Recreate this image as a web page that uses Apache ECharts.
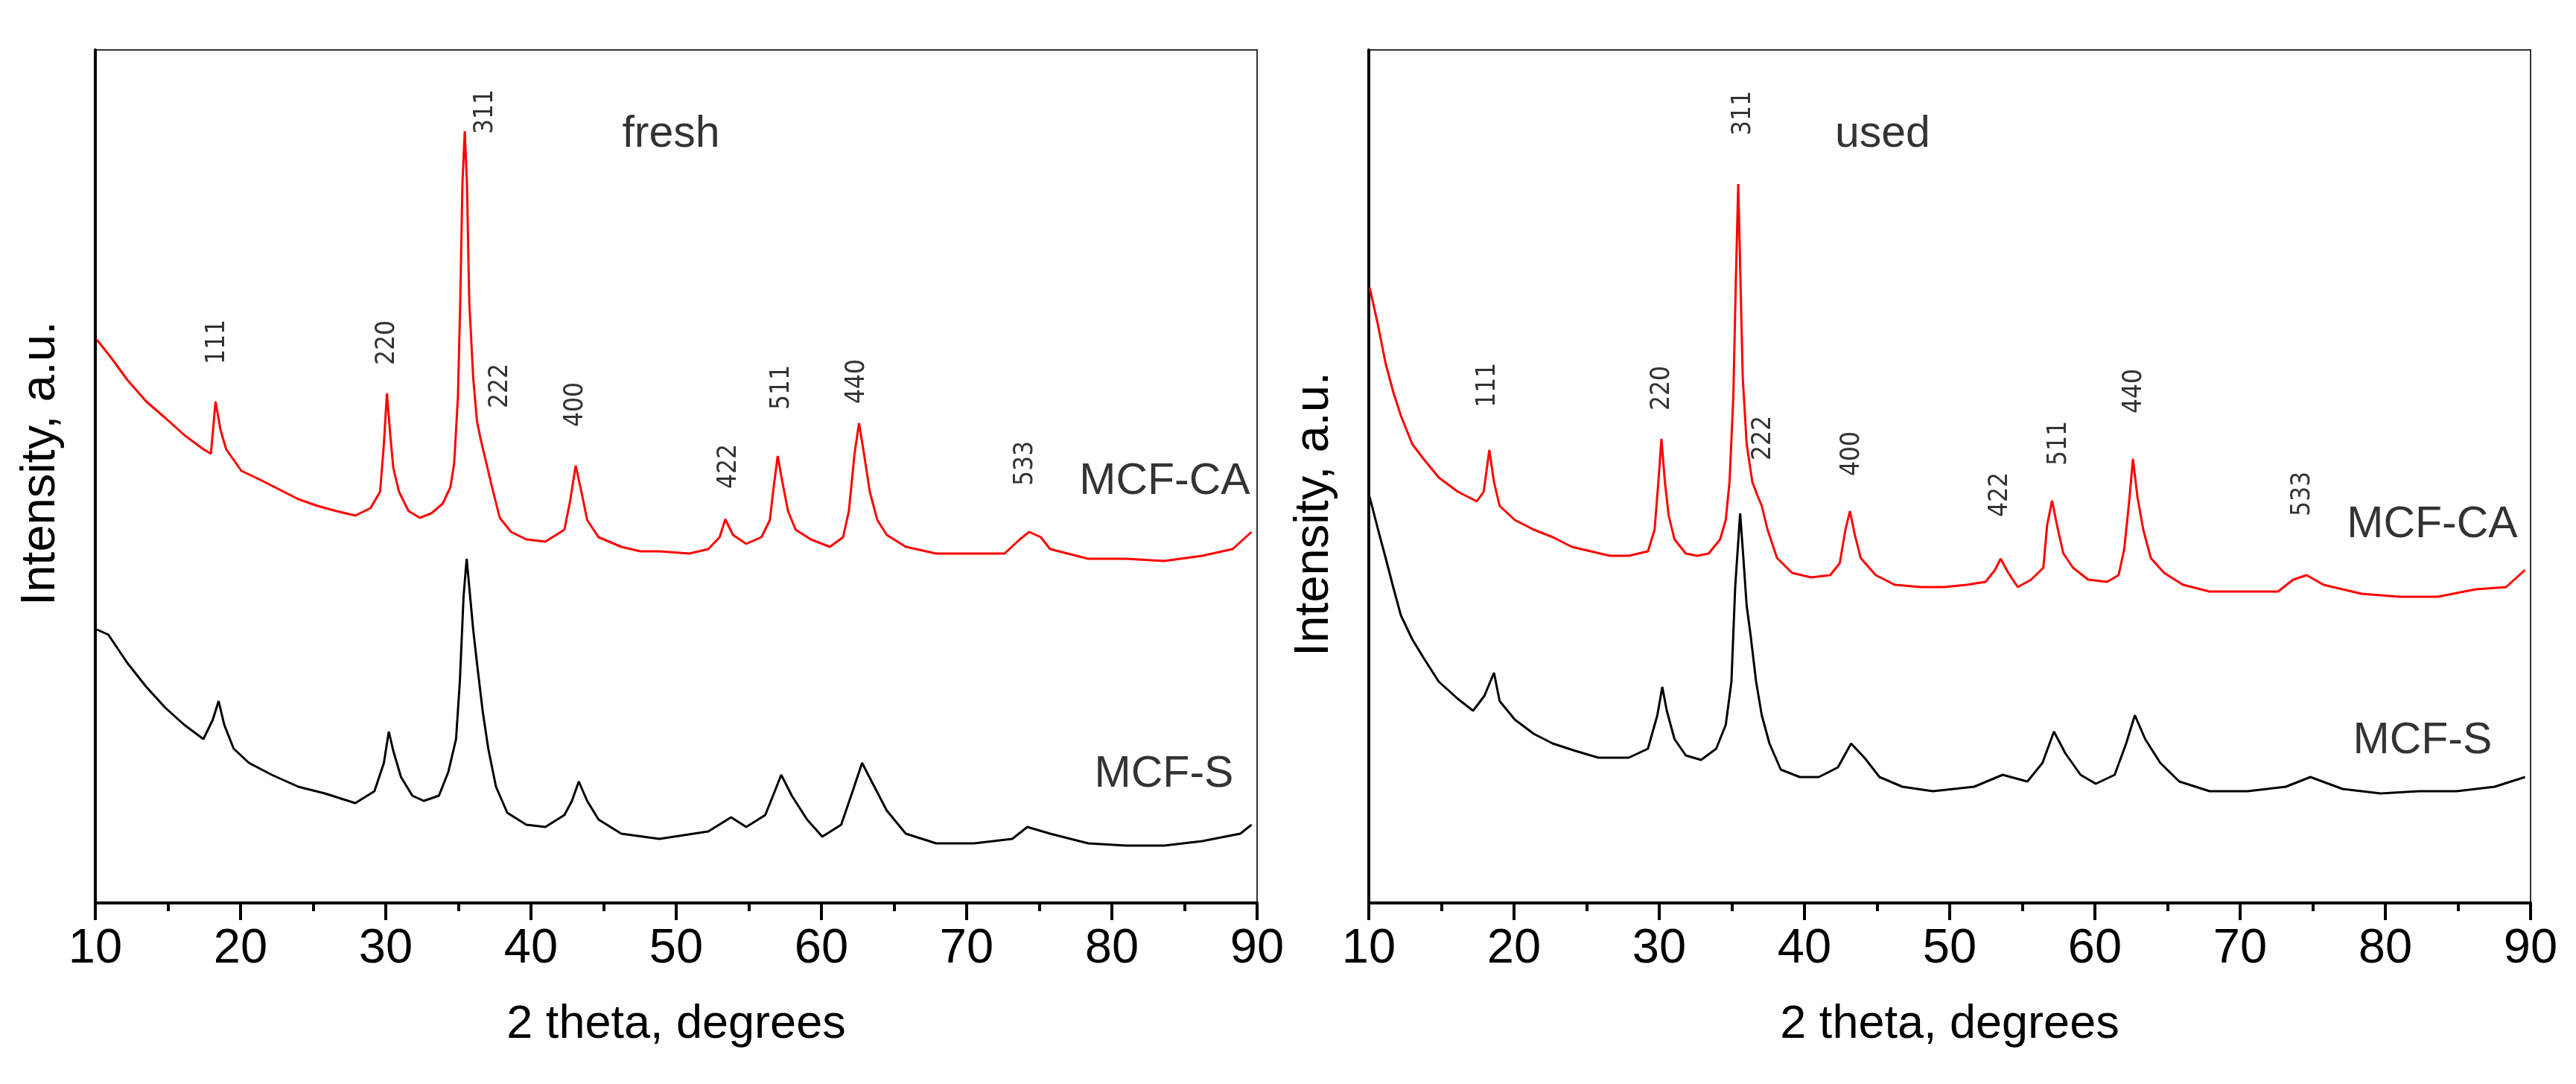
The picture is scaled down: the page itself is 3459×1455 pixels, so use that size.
<!DOCTYPE html>
<html><head><meta charset="utf-8">
<script src="https://cdn.jsdelivr.net/npm/echarts@6/dist/echarts.min.js"></script>
<style>html,body{margin:0;padding:0;background:#fff}#c{width:3459px;height:1455px}</style>
</head><body><div id="c"></div>
<script>
// 2-theta (degrees) vs intensity (a.u.)
const freshCA = [[10.11,756],[11.16,730],[12.21,702],[13.51,673],[14.82,651],[16.13,628],[17.44,609],[17.96,603],[18.28,673],[18.62,635],[19.01,609],[20.06,580],[21.36,568],[22.67,555],[23.98,542],[25.29,533],[26.60,526],[27.90,520],[28.95,530],[29.61,552],[29.87,616],[30.08,684],[30.31,628],[30.52,584],[30.91,552],[31.57,526],[32.35,517],[33.14,523],[33.92,536],[34.45,558],[34.71,590],[34.97,679],[35.13,807],[35.28,966],[35.44,1036],[35.59,966],[35.75,807],[36.02,705],[36.28,647],[36.54,622],[36.93,590],[37.32,558],[37.85,517],[38.63,498],[39.68,488],[40.99,485],[42.30,501],[42.69,539],[43.08,587],[43.47,552],[43.87,514],[44.65,491],[46.22,478],[47.53,472],[48.84,472],[50.90,469],[52.21,475],[52.99,491],[53.38,515],[53.91,494],[54.82,482],[55.87,491],[56.45,514],[56.71,558],[56.99,600],[57.31,565],[57.70,526],[58.22,501],[59.27,488],[60.58,478],[61.49,491],[61.89,526],[62.28,603],[62.59,644],[62.93,603],[63.33,552],[63.85,514],[64.50,494],[65.81,478],[67.90,469],[70.52,469],[72.61,469],[73.66,488],[74.31,498],[75.10,491],[75.75,475],[78.37,462],[80.99,462],[83.60,459],[86.22,466],[88.31,475],[89.62,498]];
const freshS = [[10.11,367],[10.90,360],[12.21,322],[13.51,290],[14.82,262],[16.13,239],[17.44,220],[18.09,246],[18.49,271],[18.88,239],[19.53,207],[20.58,188],[22.15,172],[23.98,156],[25.81,147],[27.90,134],[29.22,150],[29.87,188],[30.21,230],[30.52,204],[31.05,169],[31.83,144],[32.62,137],[33.66,144],[34.31,176],[34.84,220],[35.10,297],[35.36,412],[35.57,462],[35.75,424],[36.02,367],[36.28,322],[36.67,258],[37.06,207],[37.59,156],[38.37,121],[39.68,105],[40.99,102],[42.30,118],[42.82,137],[43.29,163],[43.87,137],[44.65,112],[46.22,93],[48.84,86],[52.21,96],[53.78,115],[54.82,102],[56.13,118],[56.79,150],[57.23,172],[57.96,144],[59.01,112],[60.06,89],[61.36,105],[62.15,150],[62.80,188],[63.46,163],[64.50,124],[65.81,93],[67.90,80],[70.52,80],[73.14,86],[74.18,102],[75.75,93],[78.37,80],[80.99,77],[83.60,77],[86.22,83],[88.84,93],[89.62,105]];
const usedCA = [[10.06,826],[10.64,775],[11.16,724],[11.68,686],[12.21,654],[12.99,616],[13.77,596],[14.82,571],[16.13,552],[17.44,539],[17.91,552],[18.30,608],[18.62,565],[19.01,533],[20.06,514],[21.36,501],[22.67,491],[23.98,478],[25.29,472],[26.60,466],[27.90,466],[29.22,472],[29.68,501],[29.94,565],[30.15,623],[30.39,565],[30.65,520],[31.05,488],[31.83,469],[32.62,466],[33.40,469],[34.19,488],[34.58,514],[34.84,565],[35.10,679],[35.28,839],[35.44,965],[35.59,839],[35.75,705],[36.02,616],[36.41,565],[36.80,545],[37.06,533],[37.46,501],[38.11,463],[39.15,443],[40.46,437],[41.77,440],[42.43,456],[42.82,501],[43.13,526],[43.47,494],[43.87,463],[44.91,440],[46.22,427],[48.05,424],[49.59,424],[51.16,427],[52.47,431],[53.12,447],[53.51,462],[54.04,443],[54.69,424],[55.61,434],[56.45,450],[56.71,507],[57.05,540],[57.39,507],[57.83,469],[58.49,450],[59.53,434],[60.84,431],[61.63,440],[62.02,475],[62.36,539],[62.62,596],[62.93,545],[63.33,501],[63.85,463],[64.77,443],[66.07,427],[67.90,418],[70.52,418],[72.61,418],[73.66,434],[74.58,440],[75.75,427],[78.37,415],[80.99,411],[83.60,411],[86.22,421],[88.31,424],[89.62,447]];
const usedS = [[10.06,545],[10.64,501],[11.16,463],[11.68,424],[12.21,386],[12.99,354],[13.77,329],[14.82,297],[16.13,274],[17.18,258],[17.96,278],[18.62,309],[19.01,271],[20.06,246],[21.36,227],[22.67,214],[24.24,204],[25.81,195],[27.90,195],[29.22,207],[29.87,252],[30.21,290],[30.52,258],[31.05,220],[31.83,198],[32.88,192],[33.92,207],[34.58,239],[34.97,297],[35.23,424],[35.57,523],[35.75,475],[36.02,399],[36.28,361],[36.67,297],[37.06,252],[37.59,214],[38.37,179],[39.68,169],[40.99,169],[42.30,182],[43.21,214],[44.13,195],[45.17,169],[46.74,156],[48.84,150],[51.68,156],[53.65,172],[55.35,163],[56.39,188],[57.18,230],[57.96,201],[59.01,172],[60.06,160],[61.36,172],[62.15,214],[62.75,252],[63.46,220],[64.50,188],[65.81,163],[67.90,150],[70.52,150],[73.14,156],[74.84,169],[77.06,153],[79.68,147],[82.30,150],[84.91,150],[87.53,156],[89.62,169]];

// annotations: [text, 2theta, intensity]
const peaksFresh = [['111',18.41,753],['220',30.10,752],['311',36.87,1062],['222',37.90,694],['400',43.08,669],['422',53.64,586],['511',57.28,692],['440',62.46,700],['533',74.05,590]];
const peaksUsed = [['111',18.21,695],['220',30.21,691],['311',35.79,1060],['222',37.18,624],['400',43.28,603],['422',53.49,548],['511',57.54,617],['440',62.72,687],['533',74.31,549]];
const namesFresh = [['MCF-CA',83.64,565],['MCF-S',83.59,172],['fresh',49.64,1031]];
const namesUsed = [['MCF-CA',83.23,507],['MCF-S',82.56,217],['used',45.38,1031]];

const xMin = 10, xMax = 90, xStep = 10;
const yMax = 1145;
const SANS = 'Liberation Sans, Arial, sans-serif';
const PEAKF = '"DejaVu Sans Condensed", "DejaVu Sans", sans-serif';

function xAxisDef(i){
  return {type:'value', gridIndex:i, min:xMin, max:xMax, interval:xStep,
    name:'2 theta, degrees', nameLocation:'middle', nameGap:132,
    nameTextStyle:{fontFamily:SANS, fontSize:63, color:'#000'},
    axisLine:{show:true, onZero:false, lineStyle:{color:'#000', width:4}},
    axisTick:{show:true, inside:false, length:23, lineStyle:{color:'#000', width:4}},
    minorTick:{show:true, splitNumber:2, length:11, lineStyle:{color:'#000', width:4}},
    axisLabel:{show:true, margin:30, fontFamily:SANS, fontSize:65, color:'#000'},
    splitLine:{show:false}, minorSplitLine:{show:false}};
}
function yAxisDef(i){
  return {type:'value', gridIndex:i, min:0, max:yMax,
    axisLine:{show:true, onZero:false, lineStyle:{color:'#000', width:4}},
    axisTick:{show:false}, axisLabel:{show:false}, splitLine:{show:false}};
}
function lineSeries(data, color, i){
  return {type:'line', xAxisIndex:i, yAxisIndex:i, data:data, showSymbol:false, symbol:'none',
    lineStyle:{color:color, width:3}, itemStyle:{color:color}, animation:false, silent:true, z:3};
}
function labelSeries(list, i, rotate, font, size){
  return {type:'scatter', xAxisIndex:i, yAxisIndex:i, symbolSize:0, silent:true, animation:false, z:5,
    data:list.map(d=>({name:d[0], value:[d[1],d[2]]})),
    label:{show:true, position:'inside', rotate:rotate, formatter:p=>p.name,
      fontFamily:font, fontSize:size, color:'#000', align:'center', verticalAlign:'middle'}};
}

const option = {
  backgroundColor:'#fff',
  animation:false,
  grid:[
    {left:128, top:67, width:1560, height:1145, show:true, borderColor:'#333', borderWidth:2, containLabel:false},
    {left:1838, top:67, width:1560, height:1145, show:true, borderColor:'#333', borderWidth:2, containLabel:false}
  ],
  xAxis:[xAxisDef(0), xAxisDef(1)],
  yAxis:[yAxisDef(0), yAxisDef(1)],
  graphic:[
    {type:'text', x:55, y:622, rotation:Math.PI/2, style:{text:'Intensity, a.u.', font:'65px ' + SANS, fill:'#000', textAlign:'center', textVerticalAlign:'middle'}},
    {type:'text', x:1765, y:690, rotation:Math.PI/2, style:{text:'Intensity, a.u.', font:'65px ' + SANS, fill:'#000', textAlign:'center', textVerticalAlign:'middle'}}
  ],
  series:[
    lineSeries(freshCA, '#ff0000', 0),
    lineSeries(freshS, '#000000', 0),
    lineSeries(usedCA, '#ff0000', 1),
    lineSeries(usedS, '#000000', 1),
    labelSeries(peaksFresh, 0, 90, PEAKF, 35),
    labelSeries(peaksUsed, 1, 90, PEAKF, 35),
    labelSeries(namesFresh, 0, 0, SANS, 59),
    labelSeries(namesUsed, 1, 0, SANS, 59)
  ]
};
const chart = echarts.init(document.getElementById('c'));
chart.setOption(option);
</script></body></html>
